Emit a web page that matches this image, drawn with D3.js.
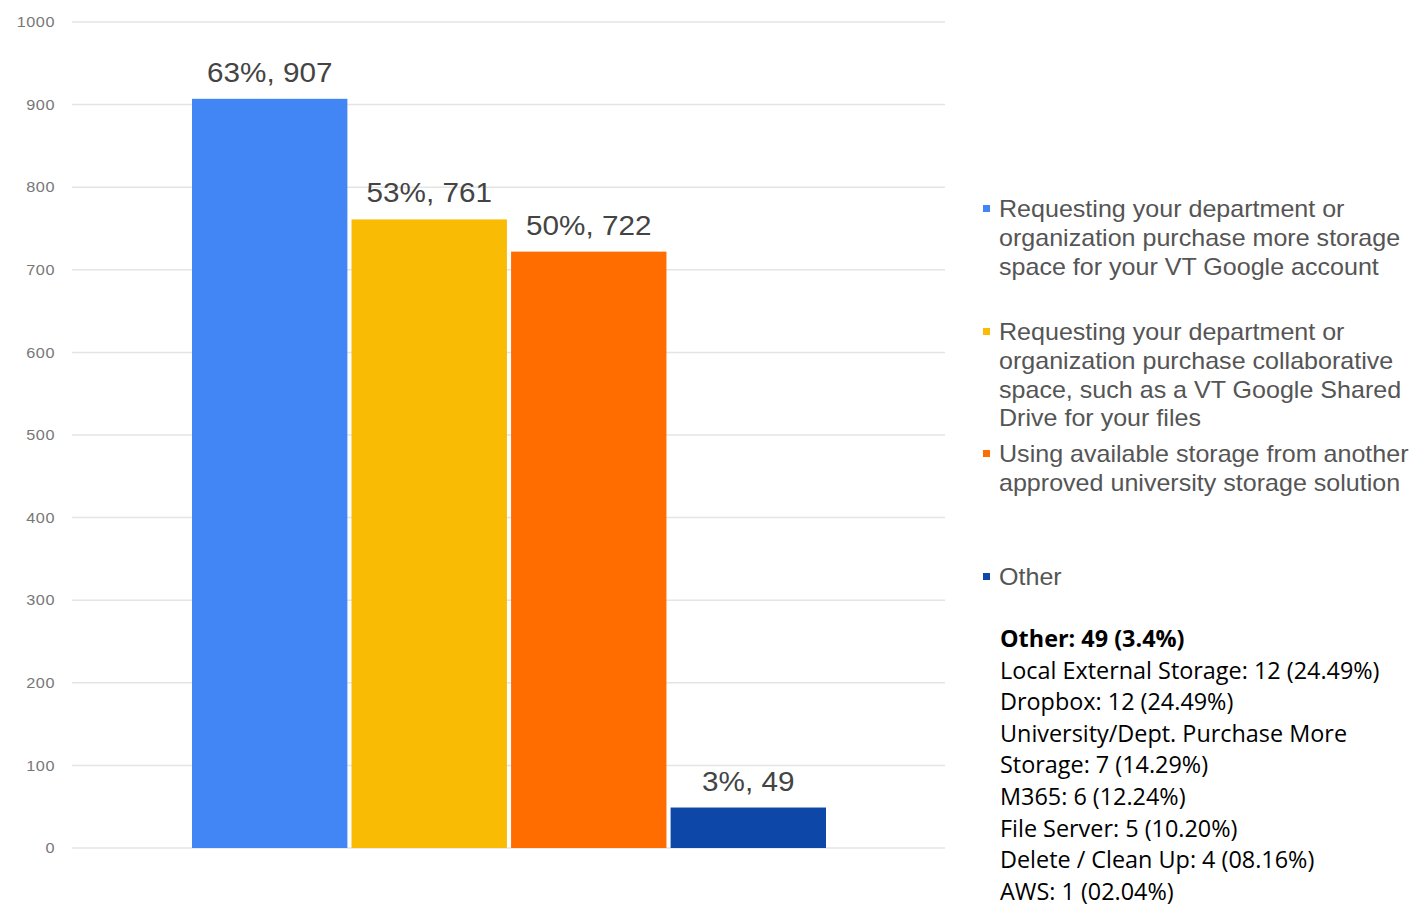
<!DOCTYPE html>
<html><head><meta charset="utf-8">
<script src="https://cdn.jsdelivr.net/npm/d3@7"></script>
<style>html,body{margin:0;padding:0;background:#fff;}</style>
</head><body>
<svg id="chart" width="1414" height="906"></svg>
<script>
const categories = [
  "Requesting your department or organization purchase more storage space for your VT Google account",
  "Requesting your department or organization purchase collaborative space, such as a VT Google Shared Drive for your files",
  "Using available storage from another approved university storage solution",
  "Other"
];
const values = [907, 761, 722, 49];
const percents = ["63%", "53%", "50%", "3%"];
const colors = ["#4285F4", "#F9BB03", "#FF6D01", "#0D47A8"];
const yTicks = [0, 100, 200, 300, 400, 500, 600, 700, 800, 900, 1000];
const legendLines = [
  ["Requesting your department or", "organization purchase more storage", "space for your VT Google account"],
  ["Requesting your department or", "organization purchase collaborative", "space, such as a VT Google Shared", "Drive for your files"],
  ["Using available storage from another", "approved university storage solution"],
  ["Other"]
];
const otherTitle = "Other: 49 (3.4%)";
const otherBreakdown = [
  "Local External Storage: 12 (24.49%)",
  "Dropbox: 12 (24.49%)",
  "University/Dept. Purchase More",
  "Storage: 7 (14.29%)",
  "M365: 6 (12.24%)",
  "File Server: 5 (10.20%)",
  "Delete / Clean Up: 4 (08.16%)",
  "AWS: 1 (02.04%)"
];

const svg = d3.select("#chart");
const y = d3.scaleLinear().domain([0, 1000]).range([848, 22]);
const x = d3.scaleBand().domain(categories).range([192, 826]).paddingInner(0.026).paddingOuter(0);
const SANS = "Liberation Sans, Arial, sans-serif";

// gridlines
svg.append("g").selectAll("line").data(yTicks).enter().append("line")
  .attr("x1", 72).attr("x2", 945)
  .attr("y1", d => y(d)).attr("y2", d => y(d))
  .attr("stroke", "#e4e4e4").attr("stroke-width", 1.5);

// y axis labels
const g = svg.append("g").attr("transform", "translate(55,0)");
g.call(d3.axisLeft(y).tickValues(yTicks).tickSize(0).tickPadding(0).tickFormat(d3.format("d")));
g.select(".domain").remove();
g.selectAll(".tick text").attr("fill", "#777").attr("font-family", SANS).attr("font-size", 14.5)
  .attr("letter-spacing", 0.5)
  .attr("transform", "scale(1.12,1)");

// bars
svg.selectAll("rect.bar").data(values).enter().append("rect")
  .attr("class", "bar")
  .attr("x", (d, i) => x(categories[i]))
  .attr("width", x.bandwidth())
  .attr("y", d => y(d))
  .attr("height", d => y(0) - y(d))
  .attr("fill", (d, i) => colors[i]);

// labels
svg.selectAll("text.lbl").data(values).enter().append("text")
  .attr("class", "lbl")
  .attr("transform", (d, i) => `translate(${x(categories[i]) + x.bandwidth() / 2},${y(d) - 17}) scale(1.06,1)`)
  .attr("text-anchor", "middle")
  .attr("font-family", SANS)
  .attr("font-size", 28)
  .attr("fill", "#444")
  .text((d, i) => percents[i] + ", " + d);

// legend
const legendStartY = [209, 332, 454, 577];
const lh = 28.8;
legendLines.forEach((lines, i) => {
  svg.append("rect").attr("x", 983).attr("y", legendStartY[i] - 4).attr("width", 7).attr("height", 7).attr("fill", colors[i]);
  lines.forEach((ln, j) => {
    svg.append("text").attr("transform", `translate(999,${legendStartY[i] + j * lh + 8}) scale(1.09,1)`)
      .attr("font-family", SANS)
      .attr("font-size", 23).attr("fill", "#555").text(ln);
  });
});

// other breakdown
const OS = "Open Sans, sans-serif";
const step = 31.6;
svg.append("text").attr("x", 1000).attr("y", 647).attr("font-family", OS)
  .attr("font-size", 23.4).attr("font-weight", "bold").attr("fill", "#000").text(otherTitle);
otherBreakdown.forEach((t, i) => {
  svg.append("text").attr("x", 1000).attr("y", 647 + (i + 1) * step).attr("font-family", OS)
    .attr("font-size", 23.4).attr("fill", "#000").text(t);
});
</script>
</body></html>
